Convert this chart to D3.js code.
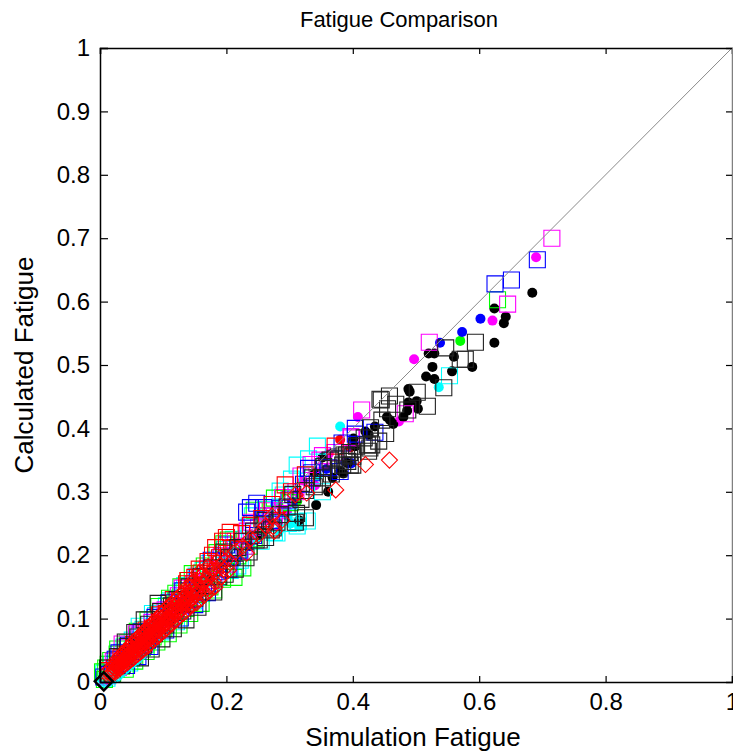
<!DOCTYPE html>
<html>
<head>
<meta charset="utf-8">
<script src="https://d3js.org/d3.v7.min.js"></script>
<style>
  html, body { margin: 0; padding: 0; background: #fff; overflow: hidden; }
  text { font-family: "Liberation Sans", Arial, sans-serif; fill: #000; }
</style>
</head>
<body>
<svg id="chart" width="733" height="753"></svg>
<script>
const xTicks = [0, 0.2, 0.4, 0.6, 0.8, 1];
const yTicks = [0, 0.1, 0.2, 0.3, 0.4, 0.5, 0.6, 0.7, 0.8, 0.9, 1];
const diagonal = [[0, 0], [1, 1]];

// filled dots
const cyanDots = [[.536,.465],[.380,.403],[.344,.325],[.297,.262],[.283,.238],[.302,.250],[.186,.172],[.221,.205],[.129,.118],[.155,.133],[.248,.226],[.071,.062],[.315,.245],[.277,.280]];
const greenDots = [[.570,.538],[.312,.285],[.171,.158],[.098,.089],[.052,.046],[.214,.193],[.134,.128]];
const magentaDots = [[.690,.670],[.621,.570],[.497,.509],[.408,.418],[.473,.411],[.362,.360],[.321,.318],[.296,.270],[.262,.256],[.238,.233],[.175,.165],[.143,.140],[.112,.107],[.066,.062],[.340,.310],[.314,.298]];
const blueDots = [[.602,.573],[.573,.552],[.538,.535],[.388,.347],[.358,.336],[.304,.284],[.237,.214],[.188,.181],[.146,.137],[.091,.083],[.398,.345]];
const redDots = [[.380,.382],[.396,.370],[.288,.272]];
const blackDots = [[.684,.614],[.624,.589],[.642,.576],[.639,.566],[.624,.535],[.560,.513],[.589,.497],[.557,.490],[.526,.497],[.520,.518],[.529,.518],[.516,.482],[.529,.478],[.488,.462],[.490,.458],[.501,.443],[.488,.441],[.503,.431],[.486,.428],[.480,.418],[.454,.418],[.459,.413],[.464,.407],[.435,.403],[.420,.395],[.425,.390],[.401,.384],[.392,.345],[.380,.333],[.368,.322],[.339,.330],[.342,.279],[.385,.329],[.352,.354],[.404,.372],[.361,.300],[.315,.255],[.249,.232],[.207,.190],[.158,.141]];

// open squares
const cyanSquares = [[.553,.483],[.344,.372],[.330,.352],[.312,.342],[.303,.320],[.285,.301],[.290,.295],[.352,.300],[.328,.254],[.314,.253],[.312,.246],[.300,.260],[.280,.235],[.268,.250],[.262,.272],[.241,.262],[.232,.226],[.218,.183],[.211,.225],[.197,.209],[.186,.165],[.172,.187],[.161,.140],[.152,.167],[.140,.124],[.128,.143],[.116,.103],[.105,.120],[.095,.086],[.088,.105],[.077,.069],[.068,.083],[.058,.052],[.051,.066],[.042,.036],[.034,.047],[.026,.020],[.018,.028],[.011,.006],[.006,.014],[.298,.250],[.276,.236],[.255,.222],[.236,.246],[.222,.192],[.206,.176],[.190,.196],[.176,.156],[.163,.176],[.148,.128],[.134,.152],[.121,.095],[.110,.128],[.098,.079],[.083,.108],[.072,.059],[.062,.088],[.047,.030],[.038,.055]];
const greenSquares = [[.629,.603],[.325,.326],[.301,.283],[.290,.290],[.276,.290],[.262,.262],[.244,.271],[.236,.214],[.226,.180],[.218,.199],[.203,.224],[.194,.162],[.185,.204],[.174,.150],[.165,.183],[.155,.138],[.146,.171],[.136,.116],[.128,.150],[.118,.104],[.110,.132],[.101,.084],[.093,.119],[.084,.071],[.076,.098],[.067,.054],[.059,.080],[.050,.038],[.043,.062],[.034,.025],[.027,.044],[.020,.012],[.013,.028],[.007,.004],[.004,.016],[.244,.226],[.212,.165],[.196,.218],[.180,.145],[.160,.124],[.142,.108],[.125,.090],[.108,.076],[.090,.063],[.073,.048],[.055,.033],[.040,.020],[.028,.052],[.017,.034],[.009,.022],[.140,.160],[.120,.140]];
const magentaSquares = [[.715,.700],[.645,.596],[.521,.536],[.483,.423],[.414,.429],[.398,.385],[.397,.387],[.372,.362],[.352,.357],[.348,.350],[.334,.343],[.318,.325],[.310,.300],[.289,.291],[.276,.262],[.265,.270],[.251,.244],[.240,.252],[.228,.214],[.214,.222],[.202,.186],[.192,.199],[.180,.160],[.170,.178],[.158,.142],[.148,.155],[.135,.121],[.124,.136],[.112,.100],[.103,.114],[.090,.081],[.082,.094],[.070,.060],[.062,.074],[.049,.044],[.040,.054],[.029,.023],[.021,.033],[.012,.010],[.286,.270],[.269,.253],[.257,.262],[.233,.238],[.221,.206],[.208,.212],[.187,.190],[.163,.166],[.130,.148],[.096,.112],[.058,.076],[.035,.060]];
const blueSquares = [[.692,.666],[.625,.628],[.651,.634],[.435,.394],[.404,.400],[.404,.391],[.383,.377],[.380,.332],[.362,.338],[.335,.330],[.330,.337],[.322,.312],[.299,.287],[.285,.274],[.271,.255],[.259,.275],[.243,.231],[.232,.268],[.220,.208],[.209,.197],[.200,.216],[.186,.174],[.176,.192],[.164,.152],[.154,.165],[.142,.130],[.131,.144],[.120,.110],[.109,.125],[.098,.090],[.087,.102],[.075,.066],[.065,.079],[.054,.048],[.045,.058],[.033,.029],[.024,.036],[.014,.012],[.006,.008],[.248,.282],[.238,.275],[.204,.178],[.170,.141],[.150,.122],[.127,.101],[.104,.082],[.079,.056],[.060,.040],[.042,.026],[.030,.046]];
const redSquares = [[.372,.372],[.325,.327],[.303,.300],[.293,.311],[.272,.280],[.256,.258],[.238,.247],[.224,.234],[.212,.212],[.200,.228],[.189,.196],[.178,.200],[.167,.171],[.157,.178],[.147,.148],[.137,.155],[.126,.128],[.116,.130],[.105,.108],[.094,.106],[.083,.085],[.073,.082],[.063,.063],[.053,.059],[.043,.044],[.033,.038],[.023,.022],[.013,.018],[.206,.236],[.194,.222],[.183,.212],[.171,.190],[.160,.172],[.150,.165],[.139,.160]];
const blackSquares = [[.594,.536],[.547,.527],[.578,.509],[.570,.509],[.544,.464],[.502,.457],[.518,.435],[.458,.451],[.445,.445],[.443,.446],[.468,.438],[.487,.429],[.455,.431],[.446,.413],[.452,.392],[.428,.401],[.418,.385],[.441,.380],[.423,.374],[.430,.374],[.427,.369],[.425,.364],[.406,.372],[.392,.348],[.400,.356],[.390,.358],[.384,.342],[.396,.342],[.377,.355],[.372,.352],[.366,.328],[.364,.350],[.354,.340],[.353,.337],[.344,.312],[.336,.322],[.325,.302],[.325,.259],[.318,.288],[.311,.266],[.305,.296],[.296,.276],[.309,.252],[.285,.264],[.274,.243],[.271,.240],[.280,.252],[.261,.255],[.258,.248],[.252,.224],[.262,.228],[.243,.238],[.236,.205],[.226,.222],[.218,.212],[.214,.178],[.205,.196],[.196,.205],[.188,.166],[.177,.180],[.168,.152],[.160,.166],[.150,.132],[.141,.150],[.131,.112],[.122,.130],[.113,.120],[.104,.090],[.096,.111],[.086,.076],[.077,.091],[.069,.058],[.060,.071],[.052,.041],[.044,.056],[.035,.027],[.028,.040],[.019,.014],[.012,.022],[.400,.342],[.395,.362],[.386,.358],[.378,.336],[.352,.322],[.339,.308],[.247,.224],[.231,.196],[.198,.170],[.180,.142],[.155,.118],[.136,.098],[.116,.084],[.098,.068],[.081,.052],[.064,.038],[.092,.124],[.070,.098],[.055,.078],[.040,.063]];

// open diamonds
const redDiamonds = [[.458,.350],[.420,.343],[.373,.303],[.327,.298],[.309,.295],[.288,.255],[.274,.245],[.272,.262],[.262,.246],[.276,.238],[.251,.232],[.238,.226],[.226,.214],[.232,.203],[.215,.206],[.206,.188],[.198,.191],[.203,.176],[.190,.184],[.192,.166],[.184,.174],[.179,.160],[.173,.171],[.176,.152],[.168,.163],[.170,.148],[.164,.157],[.160,.146],[.158,.160],[.155,.141],[.151,.150],[.148,.133],[.146,.146],[.143,.130],[.140,.141],[.138,.124],[.136,.135],[.133,.118],[.131,.132],[.128,.114],[.126,.127],[.124,.110],[.122,.124],[.120,.106],[.118,.118],[.116,.104],[.114,.116],[.112,.099],[.110,.112],[.108,.096],[.106,.109],[.104,.092],[.102,.104],[.100,.089],[.099,.101],[.097,.086],[.095,.098],[.093,.082],[.091,.094],[.089,.079],[.088,.091],[.086,.075],[.084,.087],[.082,.072],[.080,.084],[.079,.069],[.077,.080],[.075,.065],[.074,.077],[.072,.062],[.070,.074],[.068,.059],[.067,.071],[.065,.056],[.063,.067],[.062,.053],[.060,.064],[.058,.050],[.057,.061],[.055,.047],[.054,.058],[.052,.044],[.050,.054],[.049,.041],[.047,.051],[.046,.039],[.044,.048],[.043,.036],[.041,.045],[.040,.033],[.038,.042],[.037,.031],[.035,.039],[.034,.028],[.032,.036],[.031,.026],[.029,.033],[.028,.023],[.026,.030],[.025,.020],[.024,.027],[.022,.018],[.021,.024],[.020,.015],[.150,.138],[.141,.128],[.134,.126],[.127,.119],[.119,.113],[.111,.104],[.103,.097],[.096,.091],[.090,.085],[.083,.078],[.076,.071],[.069,.066],[.061,.058],[.056,.052],[.048,.046],[.042,.039],[.036,.034],[.030,.028],[.185,.190],[.163,.170],[.145,.156],[.129,.139],[.113,.123],[.098,.108],[.085,.094],[.071,.080],[.059,.068],[.182,.150],[.167,.139],[.153,.125],[.137,.113],[.121,.099],[.106,.085],[.092,.072],[.078,.060],
  [.190,.196],[.178,.178],[.171,.182],[.161,.168],[.156,.172],[.149,.160],[.144,.150],[.139,.151],[.135,.143],[.130,.124],[.125,.135],[.121,.131],[.117,.126],[.113,.108],[.109,.120],[.105,.116],[.101,.111],[.097,.107],[.094,.103],[.090,.100],[.087,.096],[.083,.093],[.080,.090],[.077,.086],[.073,.083],[.070,.079],[.066,.076],[.063,.073],[.060,.070],[.056,.066],[.053,.063],[.050,.060],[.047,.056],[.044,.053],[.041,.050],[.038,.047],[.035,.044],[.032,.041],[.029,.037],[.026,.034],
  [.196,.178],[.187,.160],[.174,.144],[.164,.136],[.158,.130],[.147,.122],[.142,.120],[.132,.108],[.126,.104],[.118,.096],[.114,.092],[.110,.089],[.103,.082],[.099,.079],[.094,.075],[.088,.069],[.084,.066],[.080,.062],[.076,.057],[.072,.054],[.068,.050],[.064,.047],[.060,.044],[.056,.041],[.052,.037],[.048,.034],[.044,.031],[.040,.028],[.036,.025],[.032,.022],[.028,.018],[.024,.015],[.018,.012],[.016,.020],[.014,.010],[.012,.016],
  [.152,.144],[.143,.137],[.137,.129],[.129,.122],[.123,.117],[.117,.110],[.109,.102],[.105,.100],[.100,.094],[.094,.088],[.089,.083],[.085,.080],[.081,.076],[.077,.073],[.073,.069],[.068,.064],[.064,.060],[.060,.056],[.054,.050],[.050,.047],[.046,.043],[.043,.040],[.039,.036],[.034,.031],[.027,.025],[.023,.021]];
const cyanDiamonds = [[.018,.007],[.024,.010],[.012,.004],[.009,.002],[.060,.040],[.052,.034],[.044,.027],[.036,.020],[.030,.014]];
const blackDiamonds = [[.006,.001]];

const margin = { left: 100, top: 48, right: 1, bottom: 71 };
const width = 733;
const height = 753;
const fontStack = '"Liberation Sans", Arial, sans-serif';

const svg = d3.select("#chart");

const x = d3.scaleLinear().domain([0, 1]).range([margin.left, width - margin.right]);
const y = d3.scaleLinear().domain([0, 1]).range([height - margin.bottom, margin.top]);

// d3.symbolDiamond is too narrow for these markers
const wideDiamond = {
    draw(context, size) {
        const r = Math.sqrt(size) / 2;
        context.moveTo(0, -r);
        context.lineTo(r, 0);
        context.lineTo(0, r);
        context.lineTo(-r, 0);
        context.closePath();
    }
};

function drawDots(data, color) {
    svg.append("g")
        .selectAll("circle")
        .data(data)
        .enter()
        .append("circle")
        .attr("cx", (d) => x(d[0]))
        .attr("cy", (d) => y(d[1]))
        .attr("r", 5)
        .attr("fill", color);
}

function drawOpen(data, color, type, size, strokeWidth = 1.1) {
    const symbol = d3.symbol().type(type).size(size);
    svg.append("g")
        .selectAll("path")
        .data(data)
        .enter()
        .append("path")
        .attr("transform", (d) => `translate(${x(d[0])},${y(d[1])})`)
        .attr("d", symbol)
        .attr("fill", "none")
        .attr("stroke", color)
        .attr("stroke-width", strokeWidth);
}

drawDots(cyanDots, "#00ffff");
drawDots(greenDots, "#00ff00");
drawDots(magentaDots, "#ff00ff");
drawDots(blueDots, "#0000ff");
drawDots(redDots, "#ff0000");
drawDots(blackDots, "#000");

drawOpen(cyanSquares, "#00ffff", d3.symbolSquare, 256);
drawOpen(greenSquares, "#00ff00", d3.symbolSquare, 256);
drawOpen(magentaSquares, "#ff00ff", d3.symbolSquare, 256);
drawOpen(blueSquares, "#0000ff", d3.symbolSquare, 256);
drawOpen(redSquares, "#ff0000", d3.symbolSquare, 256);
drawOpen(blackSquares, "#222", d3.symbolSquare, 256);

svg.append("path")
    .datum(diagonal)
    .attr("d", d3.line().x((d) => x(d[0])).y((d) => y(d[1])))
    .attr("fill", "none")
    .attr("stroke", "#8a8a8a")
    .attr("stroke-width", 1);

drawOpen(cyanDiamonds, "#00ffff", wideDiamond, 256);
drawOpen(redDiamonds, "#ff0000", wideDiamond, 256);
drawOpen(blackDiamonds, "#000", wideDiamond, 324, 2.5);

// mirrored ticks on the top and right edges
const topAxis = svg.append("g")
    .attr("transform", `translate(0,${y(1)})`)
    .call(d3.axisTop(x).tickValues(xTicks).tickFormat("").tickSize(-6));
const rightAxis = svg.append("g")
    .attr("transform", `translate(${x(1)},0)`)
    .call(d3.axisRight(y).tickValues(yTicks).tickFormat("").tickSize(-6));
const xAxis = svg.append("g")
    .attr("transform", `translate(0,${y(0)})`)
    .call(d3.axisBottom(x).tickValues(xTicks).tickFormat(d3.format("~g")).tickSize(-6).tickPadding(11));
const yAxis = svg.append("g")
    .attr("transform", `translate(${x(0)},0)`)
    .call(d3.axisLeft(y).tickValues(yTicks).tickFormat(d3.format("~g")).tickSize(-8).tickPadding(10));

[topAxis, rightAxis, xAxis, yAxis].forEach((axis) => {
    axis.select(".domain").attr("stroke", "#000").attr("stroke-width", 1.5);
    axis.selectAll(".tick line").attr("stroke", "#000").attr("stroke-width", 1.2);
    axis.selectAll("text").style("font-size", "24px").style("font-family", fontStack);
});
rightAxis.select(".domain").attr("stroke", "#808080");

svg.append("text")
    .attr("x", 399)
    .attr("y", 27)
    .attr("text-anchor", "middle")
    .style("font-size", "22px")
    .text("Fatigue Comparison");

svg.append("text")
    .attr("x", 413)
    .attr("y", 746)
    .attr("text-anchor", "middle")
    .style("font-size", "26px")
    .text("Simulation Fatigue");

svg.append("text")
    .attr("transform", "translate(33,365) rotate(-90)")
    .attr("text-anchor", "middle")
    .style("font-size", "26px")
    .text("Calculated Fatigue");
</script>
</body>
</html>
